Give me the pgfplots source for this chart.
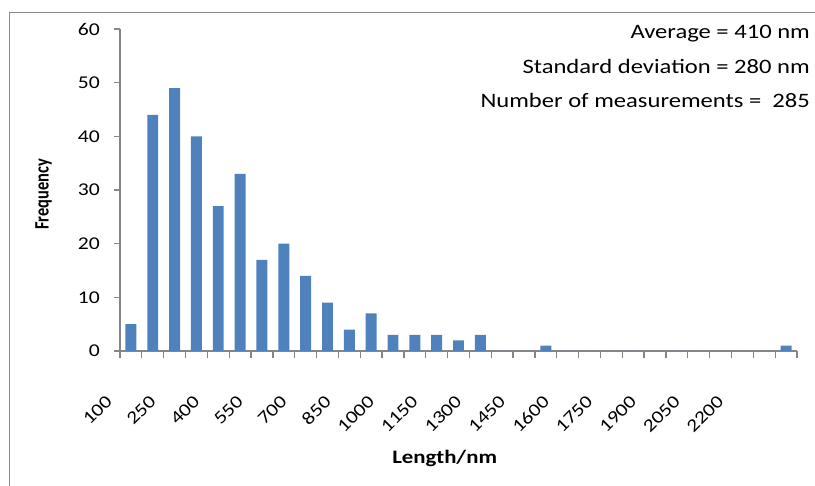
\documentclass[border=0pt]{standalone}
\usepackage{fontspec}
\setmainfont{Carlito}[FakeStretch=1.2]
\newfontfamily\ylabfont{Carlito}[FakeStretch=1.0]
\usepackage{pgfplots}
\usepackage{pgfplotstable}
\pgfplotsset{compat=1.18}

\definecolor{barblue}{HTML}{4F81BD}
\definecolor{axisgray}{HTML}{868686}
\definecolor{framegray}{HTML}{8A8A8A}

% Length histogram: bin index (bins of 50 nm from 100 nm) and count
\pgfplotstableread{
idx count
0 5
1 44
2 49
3 40
4 27
5 33
6 17
7 20
8 14
9 9
10 4
11 7
12 3
13 3
14 3
15 2
16 3
17 0
18 0
19 1
20 0
21 0
22 0
23 0
24 0
25 0
26 0
27 0
28 0
29 0
30 1
}\lengthdata

\begin{document}
\begin{tikzpicture}[x=1bp,y=1bp]
\useasboundingbox (0,0) rectangle (815,486);
\draw[framegray, line width=1.6bp] (9.5,-20) -- (9.5,473.5) -- (840,473.5);
\begin{axis}[
  at={(120bp,135bp)}, anchor=south west,
  scale only axis, width=677bp, height=322bp,
  xmin=-0.5, xmax=30.5, ymin=0, ymax=60,
  axis x line*=bottom, axis y line*=left,
  axis line style={axisgray, line width=1.3bp, -},
  ytick={0,10,...,60},
  xtick={0,2,...,28},
  xticklabels={100,250,400,550,700,850,1000,1150,1300,1450,1600,1750,1900,2050,2200},
  minor xtick={-0.5,0.5,...,30.5},
  tick align=outside,
  major tick length=6bp, minor tick length=7bp,
  tick style={axisgray, line width=1.3bp},
  every major x tick/.append style={draw=none},
  /pgf/number format/assume math mode=true,
  yticklabel style={font=\fontsize{18bp}{20bp}\selectfont, anchor=east, inner sep=0pt, xshift=-14bp},
  xticklabel style={font=\fontsize{18bp}{20bp}\selectfont, xshift=-26bp, yshift=-37bp, rotate=45, anchor=north east, inner sep=0pt},
  xlabel={Length/nm},
  xlabel style={font=\bfseries\fontsize{19bp}{21bp}\selectfont, at={(rel axis cs:0.4796,-0.3345)}, anchor=center},
  ylabel={\fontsize{16.4bp}{19bp}\selectfont\ylabfont\bfseries Frequency},
  ylabel style={at={(rel axis cs:-0.1127,0.486)}, anchor=center, yscale=1.25},
  ybar, bar width=0.5,
]
\addplot[fill=barblue, draw=none] table[x=idx, y=count] {\lengthdata};
\end{axis}
\begin{scope}[every node/.style={anchor=base east, inner sep=0pt, font=\fontsize{20.5bp}{24bp}\selectfont}]
\node at (810,447.3) {Average = 410 nm};
\node at (810,412.3) {Standard deviation = 280 nm};
\node at (810,378.3) {Number of measurements =\ \ 285};
\end{scope}
\end{tikzpicture}
\end{document}
